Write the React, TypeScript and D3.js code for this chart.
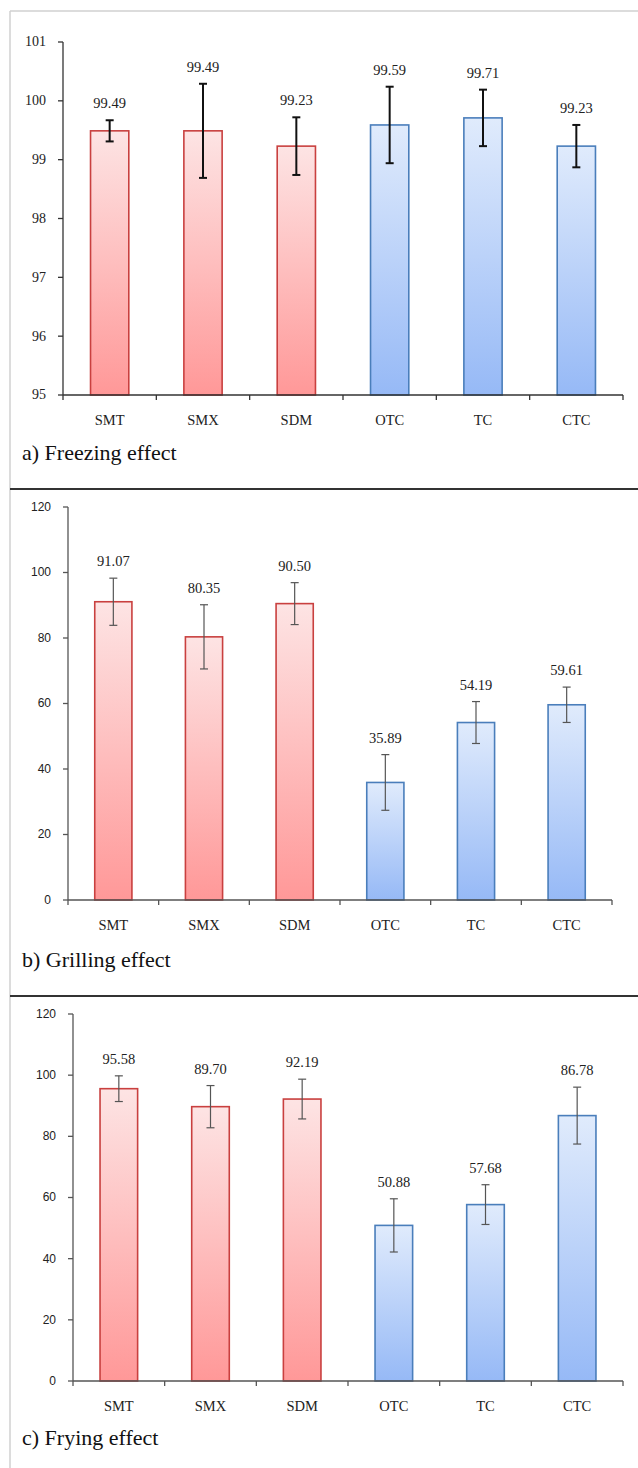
import React from "react";
import * as d3 from "d3";

const categories = ["SMT", "SMX", "SDM", "OTC", "TC", "CTC"];
const groups = ["red", "red", "red", "blue", "blue", "blue"];

const freezingMeans = [99.49, 99.49, 99.23, 99.59, 99.71, 99.23];
const freezingErr = [0.18, 0.8, 0.49, 0.65, 0.48, 0.36];
const freezingTicks = [95, 96, 97, 98, 99, 100, 101];

const grillingMeans = [91.07, 80.35, 90.5, 35.89, 54.19, 59.61];
const grillingErr = [7.2, 9.8, 6.4, 8.5, 6.4, 5.4];
const grillingTicks = [0, 20, 40, 60, 80, 100, 120];

const fryingMeans = [95.58, 89.7, 92.19, 50.88, 57.68, 86.78];
const fryingErr = [4.2, 6.9, 6.5, 8.7, 6.5, 9.3];
const fryingTicks = [0, 20, 40, 60, 80, 100, 120];

const serif = "Liberation Serif, DejaVu Serif, Times New Roman, serif";
const sans = "Liberation Sans, Arial, sans-serif";

type PanelProps = {
  title: string;
  means: number[];
  errs: number[];
  ticks: number[];
  x0: number;
  x1: number;
  yTop: number;
  yBot: number;
  titleY: number;
  tickFont: string;
  axisColor: string;
  errColor: string;
  errWidth: number;
};

function Panel(p: PanelProps) {
  const x = d3.scaleBand<string>().domain(categories).range([p.x0, p.x1]).padding(0);
  const y = d3
    .scaleLinear()
    .domain([p.ticks[0], p.ticks[p.ticks.length - 1]])
    .range([p.yBot, p.yTop]);
  const bw = x.bandwidth() * 0.41;
  const edges = categories.map((c) => x(c) as number).concat([p.x1]);

  return (
    <g>
      {/* bars */}
      {categories.map((c, i) => {
        const cx = (x(c) as number) + x.bandwidth() / 2;
        const top = y(p.means[i]);
        return (
          <rect
            key={"b" + c}
            x={cx - bw / 2}
            y={top}
            width={bw}
            height={p.yBot - top}
            fill={groups[i] === "red" ? "url(#gradRed)" : "url(#gradBlue)"}
            stroke={groups[i] === "red" ? "#c9403f" : "#4a7ebb"}
            strokeWidth={1.6}
          />
        );
      })}
      {/* error bars and value labels */}
      {categories.map((c, i) => {
        const cx = (x(c) as number) + x.bandwidth() / 2;
        const hi = y(p.means[i] + p.errs[i]);
        const lo = y(p.means[i] - p.errs[i]);
        return (
          <g key={"e" + c} stroke={p.errColor} strokeWidth={p.errWidth}>
            <line x1={cx} x2={cx} y1={hi} y2={lo} />
            <line x1={cx - 4} x2={cx + 4} y1={hi} y2={hi} />
            <line x1={cx - 4} x2={cx + 4} y1={lo} y2={lo} />
            <text
              x={cx}
              y={hi - 12}
              textAnchor="middle"
              stroke="none"
              fill="#222"
              style={{ fontFamily: serif, fontSize: 14.5 }}
            >
              {p.means[i].toFixed(2)}
            </text>
          </g>
        );
      })}
      {/* y axis */}
      <line x1={p.x0} x2={p.x0} y1={p.yTop} y2={p.yBot} stroke={p.axisColor} strokeWidth={1.3} />
      {p.ticks.map((t) => (
        <g key={"t" + t}>
          <line x1={p.x0 - 5} x2={p.x0} y1={y(t)} y2={y(t)} stroke={p.axisColor} strokeWidth={1.3} />
          <text
            x={p.x0 - 17}
            y={y(t)}
            dy="0.32em"
            textAnchor="end"
            fill="#222"
            style={{ fontFamily: p.tickFont, fontSize: p.tickFont === sans ? 12 : 14 }}
          >
            {t}
          </text>
        </g>
      ))}
      {/* x axis */}
      <line x1={p.x0} x2={p.x1} y1={p.yBot} y2={p.yBot} stroke={p.axisColor} strokeWidth={1.3} />
      {edges.map((e, i) => (
        <line key={"x" + i} x1={e} x2={e} y1={p.yBot} y2={p.yBot + 5} stroke={p.axisColor} strokeWidth={1.3} />
      ))}
      {categories.map((c) => (
        <text
          key={"l" + c}
          x={(x(c) as number) + x.bandwidth() / 2}
          y={p.yBot + 30}
          textAnchor="middle"
          fill="#222"
          style={{ fontFamily: serif, fontSize: 14.5 }}
        >
          {c}
        </text>
      ))}
      <text x={22} y={p.titleY} fill="#111" style={{ fontFamily: serif, fontSize: 22 }}>
        {p.title}
      </text>
    </g>
  );
}

export default function App() {
  return (
    <svg
      width={638}
      height={1468}
      style={{ position: "absolute", left: 0, top: 0, background: "#fff" }}
    >
      <defs>
        <linearGradient id="gradRed" x1="0" y1="0" x2="0" y2="1">
          <stop offset="0%" stopColor="#fde4e4" />
          <stop offset="100%" stopColor="#ff9898" />
        </linearGradient>
        <linearGradient id="gradBlue" x1="0" y1="0" x2="0" y2="1">
          <stop offset="0%" stopColor="#e0ebfc" />
          <stop offset="100%" stopColor="#96b9f6" />
        </linearGradient>
      </defs>
      <line x1={10} x2={638} y1={11} y2={11} stroke="#d0d0d0" strokeWidth={1.5} />
      <line x1={10} x2={10} y1={11} y2={1468} stroke="#d0d0d0" strokeWidth={1.5} />
      <line x1={10} x2={638} y1={489} y2={489} stroke="#333" strokeWidth={2} />
      <line x1={10} x2={638} y1={996} y2={996} stroke="#333" strokeWidth={2} />
      <Panel
        title="a) Freezing effect"
        means={freezingMeans}
        errs={freezingErr}
        ticks={freezingTicks}
        x0={63}
        x1={623}
        yTop={42}
        yBot={395}
        titleY={460}
        tickFont={serif}
        axisColor="#333"
        errColor="#111"
        errWidth={2}
      />
      <Panel
        title="b) Grilling effect"
        means={grillingMeans}
        errs={grillingErr}
        ticks={grillingTicks}
        x0={68}
        x1={612}
        yTop={507}
        yBot={900}
        titleY={967}
        tickFont={sans}
        axisColor="#555"
        errColor="#555"
        errWidth={1.2}
      />
      <Panel
        title="c) Frying effect"
        means={fryingMeans}
        errs={fryingErr}
        ticks={fryingTicks}
        x0={73}
        x1={623}
        yTop={1014}
        yBot={1381}
        titleY={1445}
        tickFont={sans}
        axisColor="#555"
        errColor="#555"
        errWidth={1.2}
      />
    </svg>
  );
}
